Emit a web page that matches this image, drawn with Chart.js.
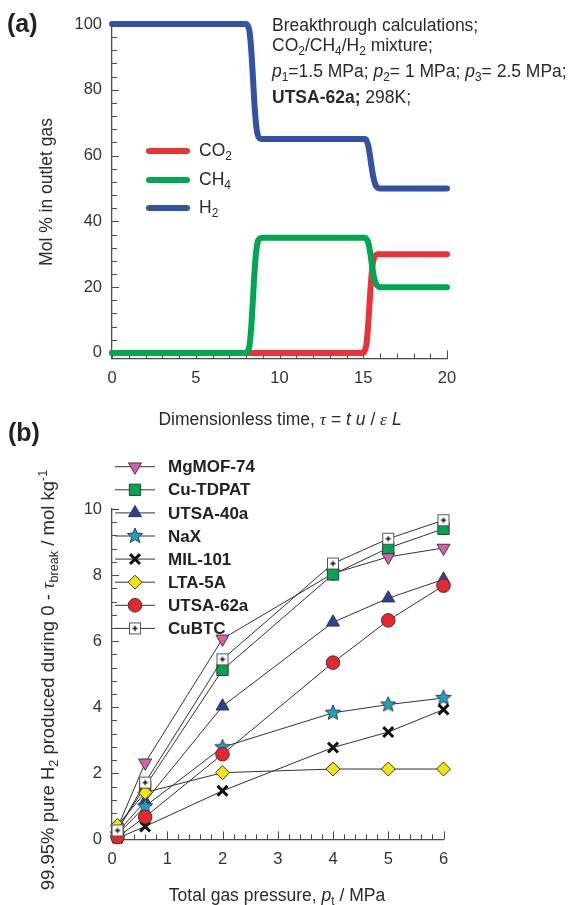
<!DOCTYPE html>
<html>
<head>
<meta charset="utf-8">
<script src="https://cdn.jsdelivr.net/npm/chart.js@4.4.0/dist/chart.umd.min.js"></script>
<style>
  body { margin: 0; background: #fff; width: 572px; height: 905px; position: relative; overflow: hidden;
         font-family: "Liberation Sans", Arial, sans-serif; color: #2a2a2a; }
  canvas { position: absolute; left: 0; }
  #chartA { top: 0; }
  #chartB { top: 430px; }
  .t { position: absolute; white-space: nowrap; line-height: 1; font-size: 17.5px; }
  .c { transform: translate(-50%, -50%); }
  .r { transform: translate(-50%, -50%) rotate(-90deg); }
  .panel { font-weight: bold; font-size: 25px; color: #222; }
  sub { font-size: 0.68em; vertical-align: -0.35em; line-height: 0; }
  sup { font-size: 0.68em; vertical-align: 0.55em; line-height: 0; }
  .g { font-family: "Liberation Serif", "DejaVu Serif", serif; font-style: italic; }
  .sw { position: absolute; height: 6px; border-radius: 3px; }
</style>
</head>
<body>
<canvas id="chartA" width="572" height="440"></canvas>
<canvas id="chartB" width="572" height="475"></canvas>

<div class="t panel" style="left:7px; top:11px;">(a)</div>
<div class="t panel" style="left:8px; top:420px;">(b)</div>

<div class="t" style="left:272px; top:17px;">Breakthrough calculations;</div>
<div class="t" style="left:272px; top:37px;">CO<sub>2</sub>/CH<sub>4</sub>/H<sub>2</sub> mixture;</div>
<div class="t" style="left:272px; top:63px;"><i>p</i><sub>1</sub>=1.5 MPa; <i>p</i><sub>2</sub>= 1 MPa; <i>p</i><sub>3</sub>= 2.5 MPa;</div>
<div class="t" style="left:272px; top:89px;"><b>UTSA-62a;</b> 298K;</div>

<div id="legendA"></div>

<div class="t c" style="left:280px; top:420px;">Dimensionless time, <span class="g">&tau;</span> = <i>t u</i> / <span class="g">&epsilon;</span> <i>L</i></div>
<div class="t r" style="left:47px; top:192px;">Mol % in outlet gas</div>

<div class="t c" style="left:277px; top:896px;">Total gas pressure, <i>p</i><sub>t</sub> / MPa</div>
<div class="t r" style="left:48px; top:680px; font-size:18.5px;">99.95% pure H<sub>2</sub> produced during 0 - <span class="g">&tau;</span><sub>break</sub> / mol kg<sup>-1</sup></div>

<script>
// ---- panel (a): breakthrough curves ----
const tau = [0, 8.0, 8.1, 8.2, 8.3, 8.4, 8.5, 8.6, 8.7, 8.8, 9.0,
             15.0, 15.1, 15.2, 15.3, 15.4, 15.5, 15.6, 15.7, 15.8, 15.9, 16.0, 20];
const co2 = [0, 0, 0, 0, 0, 0, 0, 0, 0, 0, 0,
             0, 0.8, 3, 9, 17, 24, 28, 29.4, 29.9, 30, 30, 30];
const ch4 = [0, 0, 0.5, 2, 7, 15, 24, 30.5, 33.7, 34.7, 35,
             35, 35, 34.6, 33.5, 31, 27.5, 24, 21.8, 20.7, 20.2, 20, 20];
const h2 = [100, 100, 99.5, 98, 93, 85, 76, 69.5, 66.3, 65.3, 65,
            65, 65, 64.5, 63, 60, 56.5, 53.5, 51.5, 50.5, 50.1, 50, 50];
const gasNames = ['CO<sub>2</sub>', 'CH<sub>4</sub>', 'H<sub>2</sub>'];
const gasColors = ['#ec3237', '#00a651', '#3452a4'];
const yTicksA = [0, 20, 40, 60, 80, 100];

// ---- panel (b): H2 productivity ----
const pressure = [0.1, 0.6, 2, 4, 5, 6];
const materials = ['MgMOF-74', 'Cu-TDPAT', 'UTSA-40a', 'NaX', 'MIL-101', 'LTA-5A', 'UTSA-62a', 'CuBTC'];
const mgmof74 = [0.35, 2.32, 6.07, 8.05, 8.55, 8.82];
const cuTdpat = [0.30, 1.60, 5.13, 8.02, 8.82, 9.40];
const utsa40a = [0.22, 1.15, 4.03, 6.57, 7.30, 7.87];
const nax     = [0.15, 1.00, 2.79, 3.83, 4.08, 4.28];
const mil101  = [0.04, 0.39, 1.47, 2.78, 3.25, 3.93];
const lta5a   = [0.42, 1.42, 2.02, 2.13, 2.13, 2.13];
const utsa62a = [0.07, 0.68, 2.58, 5.35, 6.63, 7.68];
const cubtc   = [0.27, 1.72, 5.45, 8.35, 9.10, 9.66];

const axisColor = '#4a4a4a';
const tickFont = { family: '"Liberation Sans", Arial, sans-serif', size: 16.5 };

// little marker images for the star and the boxed plus
function starImage(r, fill) {
  const c = document.createElement('canvas');
  c.width = c.height = 2 * r + 4;
  const g = c.getContext('2d');
  const m = r + 2;
  g.beginPath();
  for (let i = 0; i < 10; i++) {
    const rad = i % 2 ? r * 0.45 : r;
    const a = -Math.PI / 2 + i * Math.PI / 5;
    g.lineTo(m + rad * Math.cos(a), m + rad * Math.sin(a));
  }
  g.closePath();
  g.fillStyle = fill; g.fill();
  g.strokeStyle = '#3a3a3a'; g.lineWidth = 1; g.stroke();
  return c;
}

function boxPlusImage(s) {
  const c = document.createElement('canvas');
  c.width = c.height = s + 2;
  const g = c.getContext('2d');
  g.fillStyle = '#fff';
  g.fillRect(1, 1, s, s);
  g.strokeStyle = '#555'; g.lineWidth = 1;
  g.strokeRect(1.5, 1.5, s - 1, s - 1);
  const m = (s + 2) / 2;
  g.strokeStyle = '#111'; g.lineWidth = 1.4;
  g.beginPath();
  g.moveTo(m - 2.5, m); g.lineTo(m + 2.5, m);
  g.moveTo(m, m - 2.5); g.lineTo(m, m + 2.5);
  g.stroke();
  return c;
}

// inside tick marks (minor + major) along both axes
const innerTicks = {
  id: 'innerTicks',
  beforeDatasetsDraw(chart, args, o) {
    const { ctx, scales: { x, y } } = chart;
    ctx.save();
    ctx.strokeStyle = axisColor;
    ctx.lineWidth = 1;
    ctx.beginPath();
    const nx = Math.round(x.max / o.xMinor);
    for (let i = 0; i <= nx; i++) {
      const v = i * o.xMinor;
      const px = Math.round(x.getPixelForValue(v)) + 0.5;
      const major = Math.abs(v / o.xMajor - Math.round(v / o.xMajor)) < 1e-6;
      ctx.moveTo(px, y.bottom);
      ctx.lineTo(px, y.bottom - (major ? 8 : 5));
    }
    const ny = Math.round(y.max / o.yMinor);
    for (let i = 0; i <= ny; i++) {
      const v = i * o.yMinor;
      const py = Math.round(y.getPixelForValue(v)) + 0.5;
      const major = Math.abs(v / o.yMajor - Math.round(v / o.yMajor)) < 1e-6;
      ctx.moveTo(x.left, py);
      ctx.lineTo(x.left + (major ? 7 : 5), py);
    }
    ctx.stroke();
    ctx.restore();
  }
};

// legend for panel (b): line + marker + bold label
const markerLegend = {
  id: 'markerLegend',
  afterDraw(chart, args, o) {
    const ctx = chart.ctx;
    ctx.save();
    chart.data.datasets.forEach((ds, i) => {
      const y = o.top + i * o.rowHeight;
      ctx.strokeStyle = ds.borderColor;
      ctx.lineWidth = 1;
      ctx.beginPath();
      ctx.moveTo(o.left, y); ctx.lineTo(o.left + o.lineLength, y);
      ctx.stroke();
      ctx.fillStyle = ds.pointBackgroundColor;
      ctx.strokeStyle = ds.pointBorderColor;
      ctx.lineWidth = ds.pointBorderWidth;
      Chart.helpers.drawPoint(ctx, {
        pointStyle: ds.pointStyle, rotation: ds.pointRotation || 0,
        radius: ds.pointRadius, borderWidth: ds.pointBorderWidth
      }, o.left + o.lineLength / 2, y);
      ctx.fillStyle = '#222';
      ctx.font = 'bold 17px "Liberation Sans", Arial, sans-serif';
      ctx.textBaseline = 'middle';
      ctx.fillText(ds.label, o.left + o.lineLength + 13, y + 1);
    });
    ctx.restore();
  }
};

// ---- chart (a) ----
const gasSeries = [co2, ch4, h2];
new Chart(document.getElementById('chartA'), {
  type: 'line',
  data: {
    datasets: gasSeries.map((s, i) => ({
      label: gasNames[i],
      data: tau.map((t, k) => ({ x: t, y: s[k] })),
      borderColor: gasColors[i],
      borderWidth: 6,
      borderCapStyle: 'round',
      borderJoinStyle: 'round',
      cubicInterpolationMode: 'monotone',
      pointRadius: 0,
      clip: false,
      order: 3 - i
    }))
  },
  options: {
    responsive: false,
    animation: false,
    events: [],
    layout: { padding: { left: 0, top: 24, right: 125, bottom: 0 } },
    plugins: { legend: { display: false }, tooltip: { enabled: false },
               innerTicks: { xMinor: 1, xMajor: 5, yMinor: 4, yMajor: 20 } },
    scales: {
      x: {
        type: 'linear', min: 0, max: 20,
        grid: { display: false, drawTicks: false },
        border: { display: true, color: axisColor, width: 1.3 },
        ticks: { stepSize: 5, padding: 10, color: '#333', font: tickFont, maxRotation: 0 },
        afterFit: s => { s.height = 440 - 358.5; }
      },
      y: {
        type: 'linear', min: -1.7, max: 100,
        grid: { display: false, drawTicks: false },
        border: { display: true, color: axisColor, width: 1.3 },
        ticks: { padding: 10, color: '#333', font: tickFont },
        afterBuildTicks: s => { s.ticks = yTicksA.map(v => ({ value: v })); },
        afterFit: s => { s.width = 112; }
      }
    }
  },
  plugins: [innerTicks]
});

// html legend for (a)
const legA = document.getElementById('legendA');
gasNames.forEach((name, i) => {
  const y = 151 + i * 28.5;
  legA.insertAdjacentHTML('beforeend',
    `<div class="sw" style="left:146px; top:${y - 3}px; width:44px; background:${gasColors[i]}"></div>` +
    `<div class="t" style="left:199px; top:${y - 9}px;">${name}</div>`);
});

// ---- chart (b) ----
const prodSeries = [mgmof74, cuTdpat, utsa40a, nax, mil101, lta5a, utsa62a, cubtc];
const markerStyle = [
  { pointStyle: 'triangle', pointRotation: 180, pointRadius: 7.5, pointBackgroundColor: '#d95fac' },
  { pointStyle: 'rect', pointRadius: 8, pointBackgroundColor: '#00a651' },
  { pointStyle: 'triangle', pointRadius: 7.5, pointBackgroundColor: '#2d3f9c' },
  { pointStyle: starImage(8, '#17a2c6'), pointRadius: 8, pointBackgroundColor: '#17a2c6' },
  { pointStyle: 'crossRot', pointRadius: 7, pointBackgroundColor: '#111', pointBorderColor: '#111', pointBorderWidth: 3 },
  { pointStyle: 'rectRot', pointRadius: 7, pointBackgroundColor: '#f4e30e' },
  { pointStyle: 'circle', pointRadius: 6.8, pointBackgroundColor: '#e8262c' },
  { pointStyle: boxPlusImage(12), pointRadius: 6.5, pointBackgroundColor: '#fff' }
];

new Chart(document.getElementById('chartB'), {
  type: 'line',
  data: {
    datasets: prodSeries.map((s, i) => Object.assign({
      label: materials[i],
      data: pressure.map((p, k) => ({ x: p, y: s[k] })),
      borderColor: '#333',
      borderWidth: 1,
      tension: 0,
      pointBorderColor: '#3a3a3a',
      pointBorderWidth: 1,
      clip: false,
      order: prodSeries.length - i
    }, markerStyle[i]))
  },
  options: {
    responsive: false,
    animation: false,
    events: [],
    layout: { padding: { left: 0, top: 79, right: 572 - 443.5, bottom: 0 } },
    plugins: { legend: { display: false }, tooltip: { enabled: false },
               innerTicks: { xMinor: 0.2, xMajor: 1, yMinor: 0.4, yMajor: 2 },
               markerLegend: { left: 115, top: 36.7, rowHeight: 23.1, lineLength: 40 } },
    scales: {
      x: {
        type: 'linear', min: 0, max: 6,
        grid: { display: false, drawTicks: false },
        border: { display: true, color: axisColor, width: 1.3 },
        ticks: { stepSize: 1, padding: 10, color: '#333', font: tickFont, maxRotation: 0 },
        afterFit: s => { s.height = 475 - 409.4; }
      },
      y: {
        type: 'linear', min: 0, max: 10,
        grid: { display: false, drawTicks: false },
        border: { display: true, color: axisColor, width: 1.3 },
        ticks: { stepSize: 2, padding: 10, color: '#333', font: tickFont },
        afterFit: s => { s.width = 112; }
      }
    }
  },
  plugins: [innerTicks, markerLegend]
});
</script>
</body>
</html>
